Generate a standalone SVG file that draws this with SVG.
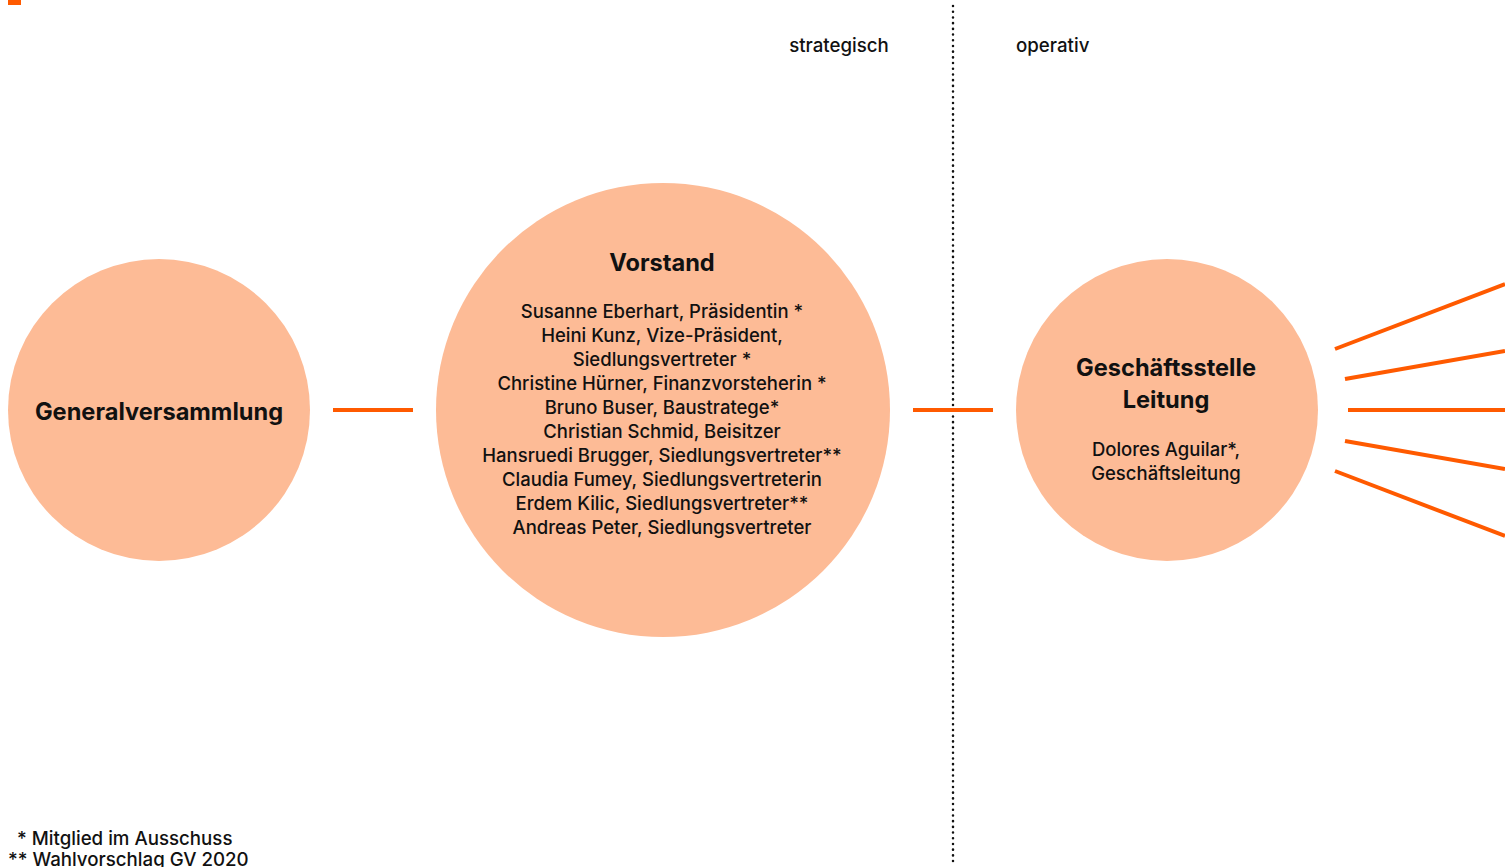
<svg xmlns="http://www.w3.org/2000/svg" width="1505" height="867" viewBox="0 0 1505 867">
<style>
.node{fill:#fdbb96}
.t{font-family:"Inter","Liberation Sans",sans-serif;fill:#111;text-anchor:middle}
.h{font-size:23.6px;font-weight:700}
.b{font-size:18.5px;font-weight:500}
.s{font-size:18.7px;font-weight:500;fill:#111;font-family:"Inter","Liberation Sans",sans-serif}
.c{stroke:#ff5a00;stroke-width:4;fill:none}
</style>
<rect x="8" y="0" width="13" height="5" fill="#ff5a00"/>
<line x1="953" y1="6" x2="953" y2="862" stroke="#111" stroke-width="2.5" stroke-dasharray="0.1 5.6" stroke-linecap="round"/>
<text class="s" x="839" y="52" text-anchor="middle">strategisch</text>
<text class="s" x="1016" y="52">operativ</text>
<g id="connectors">
<line class="c" x1="333" y1="410" x2="413" y2="410"/>
<line class="c" x1="913" y1="410" x2="993" y2="410"/>
<line class="c" x1="1335" y1="349" x2="1505" y2="284"/>
<line class="c" x1="1345" y1="379" x2="1505" y2="351"/>
<line class="c" x1="1348" y1="410" x2="1505" y2="410"/>
<line class="c" x1="1345" y1="441" x2="1505" y2="469"/>
<line class="c" x1="1335" y1="471" x2="1505" y2="536"/>
</g>
<g id="generalversammlung">
<circle class="node" cx="159" cy="410" r="151"/>
<text class="t h" x="159" y="420">Generalversammlung</text>
</g>
<g id="vorstand">
<circle class="node" cx="663" cy="410" r="227"/>
<text class="t h" x="662" y="271">Vorstand</text>
<text class="t b" x="662" y="318">Susanne Eberhart, Präsidentin *</text>
<text class="t b" x="662" y="342">Heini Kunz, Vize-Präsident,</text>
<text class="t b" x="662" y="366">Siedlungsvertreter *</text>
<text class="t b" x="662" y="390">Christine Hürner, Finanzvorsteherin *</text>
<text class="t b" x="662" y="414">Bruno Buser, Baustratege*</text>
<text class="t b" x="662" y="438">Christian Schmid, Beisitzer</text>
<text class="t b" x="662" y="462">Hansruedi Brugger, Siedlungsvertreter**</text>
<text class="t b" x="662" y="486">Claudia Fumey, Siedlungsvertreterin</text>
<text class="t b" x="662" y="510">Erdem Kilic, Siedlungsvertreter**</text>
<text class="t b" x="662" y="534">Andreas Peter, Siedlungsvertreter</text>
</g>
<g id="geschaeftsstelle">
<circle class="node" cx="1167" cy="410" r="151"/>
<text class="t h" x="1166" y="376">Geschäftsstelle</text>
<text class="t h" x="1166" y="408">Leitung</text>
<text class="t b" x="1166" y="456">Dolores Aguilar*,</text>
<text class="t b" x="1166" y="480">Geschäftsleitung</text>
</g>
<text class="s" x="17" y="845">* Mitglied im Ausschuss</text>
<text class="s" x="8" y="866">** Wahlvorschlag GV 2020</text>
</svg>
